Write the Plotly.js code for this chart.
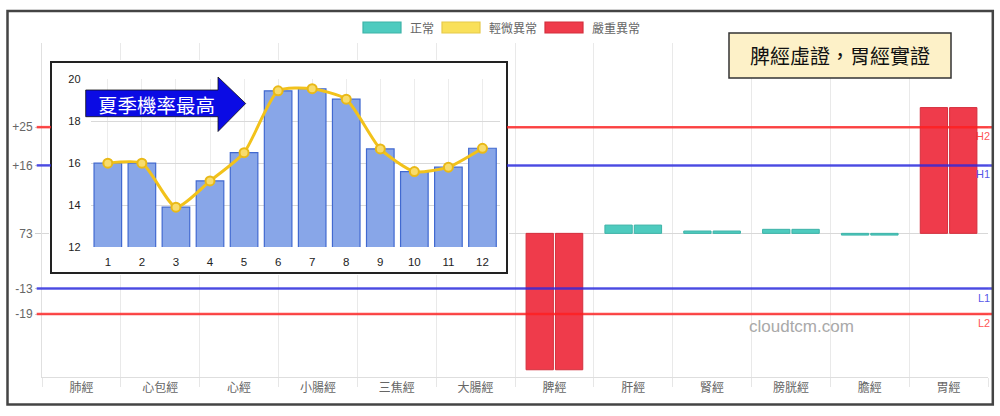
<!DOCTYPE html>
<html>
<head>
<meta charset="utf-8">
<script src="https://cdn.plot.ly/plotly-3.0.1.min.js"></script>
<style>
  html, body { margin: 0; padding: 0; background: #fff; }
  #myDiv { width: 1000px; height: 416px; }
</style>
</head>
<body>
<div id="myDiv"></div>
<script>
// main chart: meridians, two bars each (left / right)
var meridians = ['肺經', '心包經', '心經', '小腸經', '三焦經', '大腸經', '脾經', '肝經', '腎經', '膀胱經', '膽經', '胃經'];
// first six are hidden behind the inset in the picture
var leftVals = [null, null, null, null, null, null, -32.1, 1.95, 0.55, 0.95, -0.4, 29.6];
var rightVals = [null, null, null, null, null, null, -32.1, 1.95, 0.55, 0.95, -0.4, 29.6];
var statusIdx = [0, 0, 0, 0, 0, 0, 2, 0, 0, 0, 0, 2];

var statusNames = ['正常', '輕微異常', '嚴重異常'];
var statusColors = ['#4ecbbf', '#f9e05a', '#ef3b4b'];
var statusBorders = ['#3db3a8', '#e6c94a', '#d42f3d'];

var yTickVals = [25, 16, 0, -13, -19];
var yTickText = ['+25', '+16', '73', '-13', '-19'];

var limitVals = [25, 16, -13, -19];
var limitNames = ['H2', 'H1', 'L1', 'L2'];
var limitColors = ['rgba(255,30,30,0.8)', 'rgba(40,40,225,0.8)', 'rgba(40,40,225,0.8)', 'rgba(255,30,30,0.8)'];

// inset: monthly rate
var months = ['1', '2', '3', '4', '5', '6', '7', '8', '9', '10', '11', '12'];
var monthRate = [16.0, 16.0, 13.9, 15.15, 16.5, 19.45, 19.55, 19.05, 16.68, 15.6, 15.81, 16.71];

var arrowText = '夏季機率最高';
var noteText = '脾經虛證，胃經實證';
var markText = 'cloudtcm.com';

// ---- pixel helpers ----
var W = 1000, H = 416, ML = 42, MR = 12, MT = 43, MB = 39;
var PW = W - ML - MR, PH = H - MT - MB;
function px(x) { return (x - ML) / PW; }
function py(y) { return (H - MB - y) / PH; }

var yMin = -33.8, yMax = 44.8;
function ypix(v) { return MT + (yMax - v) / (yMax - yMin) * PH; }

// inset box and its plot area, in pixels
var box = {x0: 51, x1: 507, y0: 62, y1: 273};
var ins = {x0: 90.8, x1: 499.5, y0: 79.3, y1: 247};

var fontMain = 'Liberation Sans, Arial, Noto Sans CJK TC, sans-serif';
var fontCJK = 'Noto Sans CJK TC, sans-serif';

var barColors = statusIdx.map(function (s) { return statusColors[s]; });
var barBorders = statusIdx.map(function (s) { return statusBorders[s]; });

var data = [
  {
    type: 'bar', x: meridians, y: leftVals, name: '左',
    marker: {color: barColors, line: {color: barBorders, width: 1}},
    showlegend: false, hoverinfo: 'skip'
  },
  {
    type: 'bar', x: meridians, y: rightVals, name: '右',
    marker: {color: barColors, line: {color: barBorders, width: 1}},
    showlegend: false, hoverinfo: 'skip'
  },
  // empty trace just so the inset box subplot exists
  {type: 'scatter', x: [], y: [], xaxis: 'x2', yaxis: 'y2', showlegend: false, hoverinfo: 'skip'},
  {
    type: 'bar', x: months, y: monthRate, xaxis: 'x3', yaxis: 'y3', width: 0.81,
    marker: {color: '#88a6e8', line: {color: '#4169d0', width: 1.2}},
    showlegend: false, hoverinfo: 'skip'
  },
  {
    type: 'scatter', mode: 'lines+markers', x: months, y: monthRate, xaxis: 'x3', yaxis: 'y3',
    line: {color: '#f2c21b', width: 3, shape: 'spline', smoothing: 0.6},
    marker: {size: 9, color: '#f8dc6c', line: {color: '#e9b918', width: 2}},
    showlegend: false, hoverinfo: 'skip'
  }
];

var shapes = [];
var annotations = [];

// inset white box (drawn in subplot x2y2, above the main bars)
shapes.push({
  type: 'rect', xref: 'x2', yref: 'y2', layer: 'below',
  x0: box.x0, x1: box.x1, y0: box.y0, y1: box.y1,
  fillcolor: '#ffffff', line: {color: '#222', width: 2}
});

// limit lines, cut where the inset covers them
limitVals.forEach(function (v, i) {
  var yp = ypix(v);
  var segs = (yp > box.y0 && yp < box.y1) ? [[36.7, box.x0], [box.x1, 992.5]] : [[36.7, 992.5]];
  segs.forEach(function (s) {
    shapes.push({
      type: 'line', xref: 'paper', yref: 'y', layer: 'above',
      x0: px(s[0]), x1: px(s[1]), y0: v, y1: v,
      line: {color: limitColors[i], width: 2.5}
    });
  });
  annotations.push({
    xref: 'paper', yref: 'y', x: px(991.5), y: v, xanchor: 'right', yanchor: 'top',
    yshift: -1, showarrow: false, text: limitNames[i],
    font: {size: 11, color: limitColors[i], family: fontMain}
  });
});

// custom legend
var lx = 363;
statusNames.forEach(function (n, i) {
  shapes.push({
    type: 'rect', xref: 'paper', yref: 'paper', layer: 'above',
    x0: px(lx), x1: px(lx + 38), y0: py(22), y1: py(33),
    fillcolor: statusColors[i], line: {color: statusBorders[i], width: 1.2}
  });
  annotations.push({
    xref: 'paper', yref: 'paper', x: px(lx + 45), y: py(27.5), xanchor: 'left', yanchor: 'middle',
    showarrow: false, text: n, font: {size: 12, color: '#666', family: fontCJK}
  });
  lx += 46 + 12 * n.length + 9;
});

// note box top right
shapes.push({
  type: 'rect', xref: 'paper', yref: 'paper', layer: 'above',
  x0: px(729), x1: px(951), y0: py(78), y1: py(33),
  fillcolor: '#fdf1c8', line: {color: '#333', width: 1.5}
});
annotations.push({
  xref: 'paper', yref: 'paper', x: px(840), y: py(55.5), xanchor: 'center', yanchor: 'middle',
  showarrow: false, text: noteText, font: {size: 20, color: '#111', family: fontCJK}
});

// blue arrow in the inset
var ap = [[85.7, 90], [218, 90], [218, 77], [245.7, 103.5], [218, 131.5], [218, 116.7], [85.7, 116.7]];
shapes.push({
  type: 'path', xref: 'paper', yref: 'paper', layer: 'above',
  path: 'M' + ap.map(function (p) { return px(p[0]) + ',' + py(p[1]); }).join('L') + 'Z',
  fillcolor: '#0b0be4', line: {color: '#111', width: 0.8}
});
annotations.push({
  xref: 'paper', yref: 'paper', x: px(156), y: py(104), xanchor: 'center', yanchor: 'middle',
  showarrow: false, text: arrowText, font: {size: 19.5, color: '#fff', family: fontCJK}
});

// watermark
annotations.push({
  xref: 'paper', yref: 'paper', x: px(801), y: py(326), xanchor: 'center', yanchor: 'middle',
  showarrow: false, text: markText, font: {size: 17, color: '#a9a9a9', family: fontMain}
});

// outer frame
shapes.push({
  type: 'rect', xref: 'paper', yref: 'paper', layer: 'above',
  x0: px(7.5), x1: px(992.8), y0: py(404.5), y1: py(11),
  line: {color: '#444', width: 2.5}
});

var layout = {
  width: W, height: H,
  margin: {l: ML, r: MR, t: MT, b: MB, pad: 0},
  paper_bgcolor: '#fff', plot_bgcolor: '#fff',
  font: {family: fontMain, color: '#666'},
  showlegend: false, hovermode: false,
  barmode: 'group', bargap: 0.255, bargroupgap: 0.07,
  xaxis: {
    type: 'category', tickson: 'boundaries', ticks: 'outside', ticklen: 9, tickcolor: '#e6e6e6',
    showgrid: true, gridcolor: '#e9e9e9', showline: true, linecolor: '#dedede', linewidth: 1,
    tickfont: {size: 12, color: '#666', family: fontCJK}, fixedrange: true
  },
  yaxis: {
    range: [yMin, yMax], tickmode: 'array', tickvals: yTickVals, ticktext: yTickText,
    ticks: 'outside', ticklen: 6, tickcolor: '#cfcfcf', showgrid: true, gridcolor: '#d8d8d8',
    zeroline: false, showline: true, linecolor: '#e0e0e0',
    tickfont: {size: 12, color: '#666'}, fixedrange: true
  },
  xaxis2: {domain: [px(49), px(509)], range: [49, 509], anchor: 'y2', visible: false, fixedrange: true},
  yaxis2: {domain: [py(275), py(60)], range: [275, 60], anchor: 'x2', visible: false, fixedrange: true},
  xaxis3: {
    domain: [px(ins.x0), px(ins.x1)], anchor: 'y3', type: 'category', range: [-0.5, 11.5],
    showgrid: true, gridcolor: '#ececec', showline: false, zeroline: false,
    ticks: 'outside', ticklen: 4, tickcolor: 'rgba(0,0,0,0)',
    tickfont: {size: 11.5, color: '#222'}, fixedrange: true
  },
  yaxis3: {
    domain: [py(ins.y1), py(ins.y0)], anchor: 'x3', range: [12, 20], dtick: 2,
    showgrid: true, gridcolor: '#d9d9d9', zeroline: false, showline: false,
    ticks: 'outside', ticklen: 7, tickcolor: 'rgba(0,0,0,0)',
    tickfont: {size: 11, color: '#222'}, fixedrange: true
  },
  shapes: shapes,
  annotations: annotations
};

Plotly.newPlot('myDiv', data, layout, {displayModeBar: false, staticPlot: true});
</script>
</body>
</html>
